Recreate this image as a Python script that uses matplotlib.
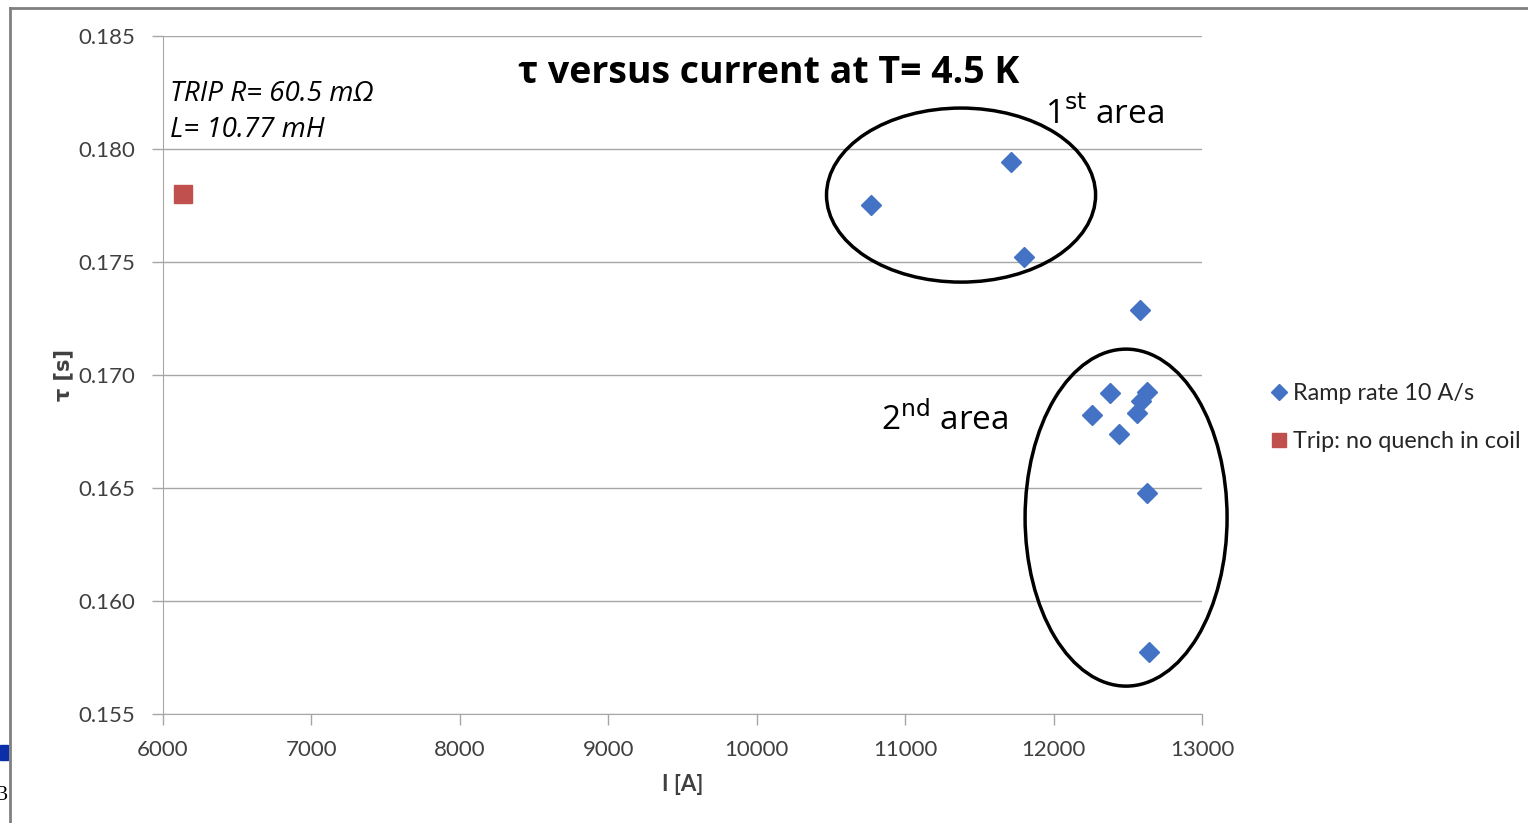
import matplotlib.pyplot as plt
from matplotlib.patches import Ellipse, Rectangle
from matplotlib.lines import Line2D

# Данные: ток [A] и постоянная времени tau [s]
ramp_current = [10770, 11714, 11802, 12584, 12260, 12381, 12631, 12590, 12563, 12442, 12631, 12644]
ramp_tau = [0.17752, 0.17942, 0.17522, 0.17288, 0.16823, 0.16920, 0.16925, 0.16885, 0.16832, 0.16739, 0.16478, 0.15774]

trip_current = [6135]
trip_tau = [0.1780]

x_ticks = [6000, 7000, 8000, 9000, 10000, 11000, 12000, 13000]
y_ticks = [0.155, 0.160, 0.165, 0.170, 0.175, 0.180, 0.185]

blue = '#4472C4'
red = '#C0504D'
grid_col = '#A6A6A6'

plt.rcParams['font.family'] = ['Lato', 'DejaVu Sans']

fig = plt.figure(figsize=(15.28, 8.23), dpi=100)
ax = fig.add_axes([0.1067, 0.1324, 0.6799, 0.8239])

ax.plot(ramp_current, ramp_tau, linestyle='none', marker='D', markersize=10,
        color=blue, label='Ramp rate 10 A/s')
ax.plot(trip_current, trip_tau, linestyle='none', marker='s', markersize=13,
        color=red, label='Trip: no quench in coil')

ax.set_xlim(6000, 13000)
ax.set_ylim(0.155, 0.185)
ax.set_xticks(x_ticks)
ax.set_yticks(y_ticks)
ax.set_yticklabels(['%.3f' % v for v in y_ticks])
ax.tick_params(labelsize=16, colors='#404040', length=8, width=1, color=grid_col)
ax.tick_params(axis='y', pad=12)
ax.tick_params(axis='x', pad=11)
ax.yaxis.grid(True, color=grid_col, linewidth=1)
ax.set_axisbelow(True)
for s in ['top', 'right']:
    ax.spines[s].set_visible(False)
for s in ['left', 'bottom']:
    ax.spines[s].set_color(grid_col)

ax.set_xlabel('I [A]', fontsize=16, fontweight='bold', color='#404040', labelpad=10)
ax.set_ylabel('τ [s]', fontsize=15, fontweight='bold', color='#404040', labelpad=4,
              family=['DejaVu Sans'])

ax.text(10080, 0.18335, 'τ versus current at T= 4.5 K',
        ha='center', va='center', fontsize=27, fontweight='bold',
        family=['Open Sans', 'DejaVu Sans'])

ax.text(6045, 0.18245, 'TRIP R= 60.5 mΩ', fontsize=20, style='italic',
        va='center', family=['Open Sans', 'DejaVu Sans'])
ax.text(6045, 0.18082, 'L= 10.77 mH', fontsize=20, style='italic',
        va='center', family=['Open Sans', 'DejaVu Sans'])

ax.text(11945, 0.1815, '1$^{\\mathrm{st}}$ area', fontsize=24, va='center',
        family=['Open Sans', 'DejaVu Sans'])
ax.text(10840, 0.1680, '2$^{\\mathrm{nd}}$ area', fontsize=24, va='center',
        family=['Open Sans', 'DejaVu Sans'])

ax.add_patch(Ellipse((11377, 0.17796), 1813, 0.0077, fill=False,
                     edgecolor='black', linewidth=2.5, clip_on=False))
ax.add_patch(Ellipse((12489, 0.16369), 1361, 0.01491, fill=False,
                     edgecolor='black', linewidth=2.5, clip_on=False))

leg = ax.legend(loc='center left', bbox_to_anchor=(1.047, 0.437), frameon=False,
                fontsize=16.8, handlelength=0.6, handletextpad=0.3,
                labelspacing=1.15, markerscale=0.8)
for t in leg.get_texts():
    t.set_color('#262626')

# рамка слайда
fig.add_artist(Line2D([10 / 1528, 10 / 1528], [0, 1 - 8 / 823], color='#808080', linewidth=2))
fig.add_artist(Line2D([10 / 1528, 1], [1 - 8 / 823, 1 - 8 / 823], color='#808080', linewidth=2))
fig.add_artist(Rectangle((0, 1 - 760 / 823), 8 / 1528, 15 / 823, color='#0a2fa8',
                         transform=fig.transFigure))
fig.text(-3 / 1528, 1 - 795 / 823, '3', fontsize=16, va='center', family=['Liberation Serif'])

fig.savefig('out.png', dpi=100)
